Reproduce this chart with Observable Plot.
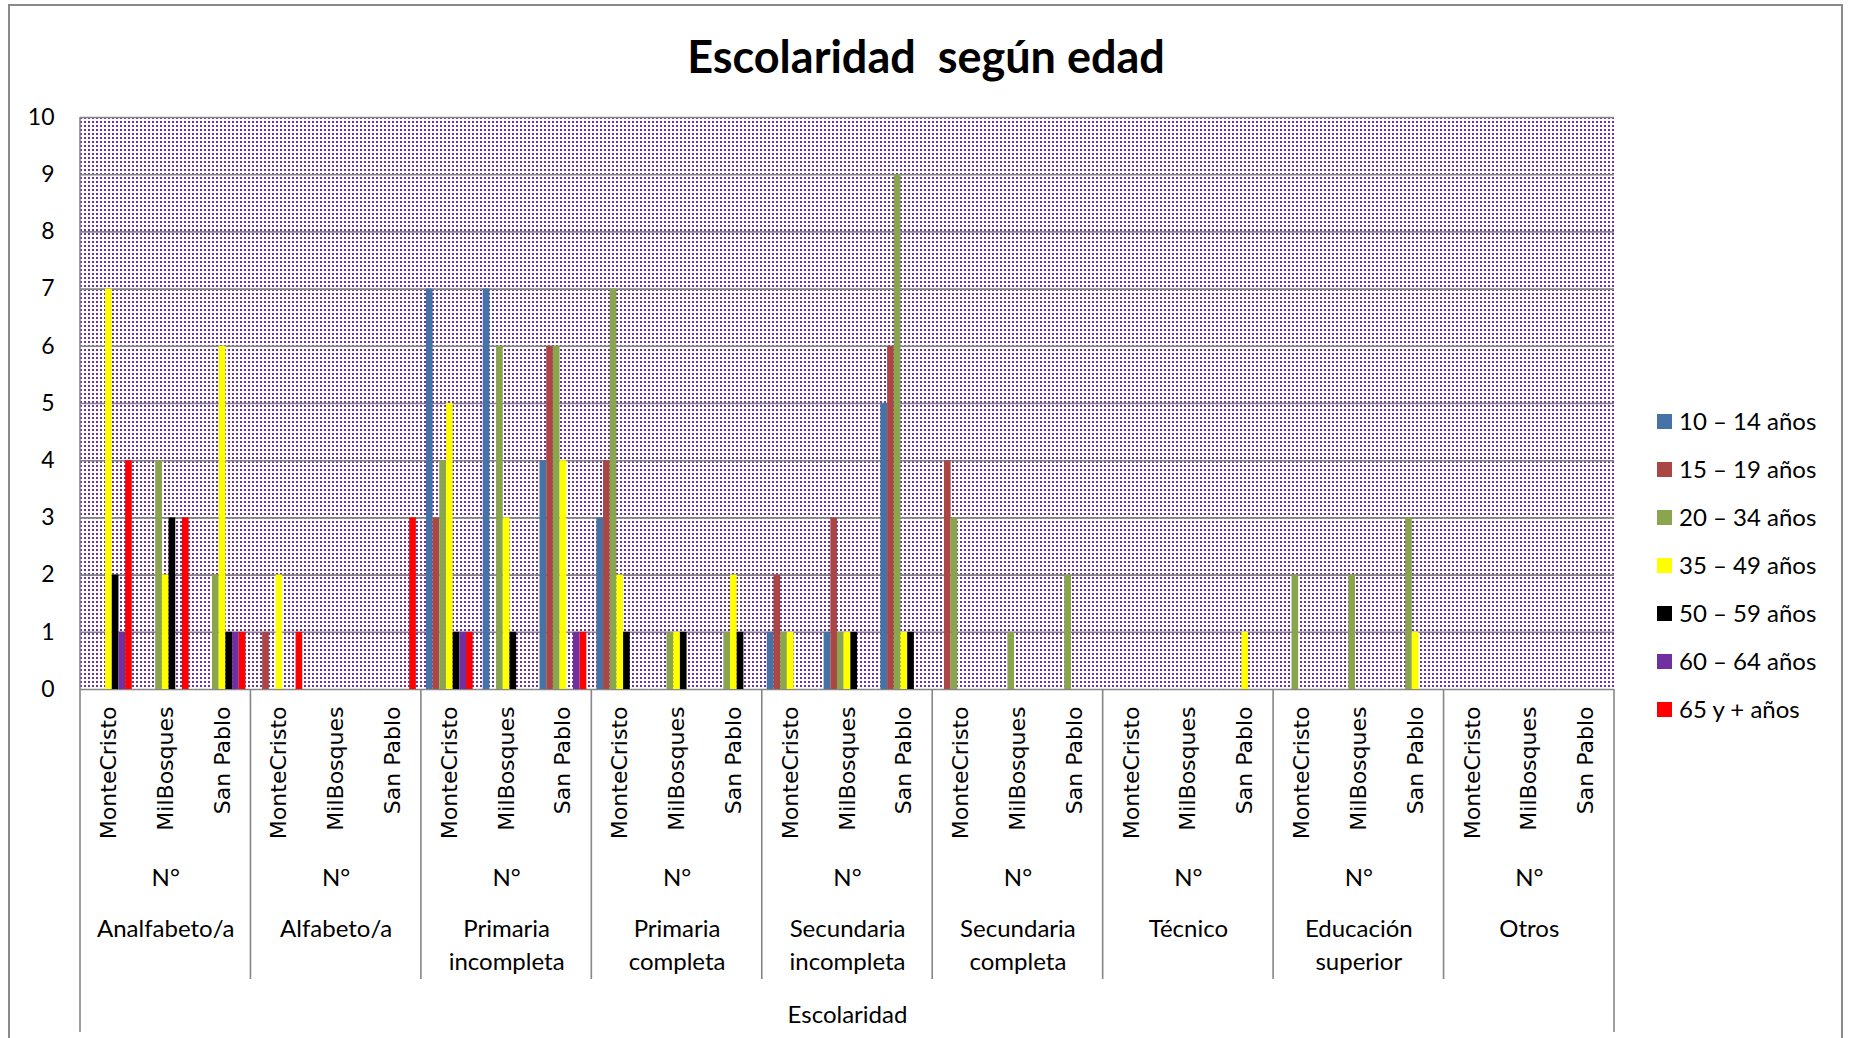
<!DOCTYPE html>
<html>
<head>
<meta charset="utf-8">
<script src="https://cdn.jsdelivr.net/npm/d3@7"></script>
<script src="https://cdn.jsdelivr.net/npm/@observablehq/plot@0.6"></script>
<style>
  html, body { margin: 0; padding: 0; background: #fff; overflow: hidden; }
  #wrap { position: relative; width: 1849px; height: 1038px; font-family: Lato, "Open Sans", sans-serif; color: #000; }
  #wrap svg { position: absolute; left: 0; top: 0; }
  #border { position: absolute; left: 8px; top: 4px; width: 1835px; height: 1100px; border: 2px solid #8a8a8a; box-sizing: border-box; pointer-events: none; }
  #title { position: absolute; left: 0; width: 1852px; top: 34px; text-align: center; font: 700 45px/1 Lato, sans-serif; white-space: pre; }
  .lg-sw { position: absolute; width: 15px; height: 15px; }
  .lg-tx { position: absolute; font: 400 24px/1 Lato, sans-serif; white-space: pre; }
</style>
</head>
<body>
<div id="wrap">
  <div id="border"></div>
  <div id="title">Escolaridad  según edad</div>
</div>
<script>
// ---- Data ----
const categories = ["Analfabeto/a", "Alfabeto/a", "Primaria incompleta", "Primaria completa", "Secundaria incompleta", "Secundaria completa", "Técnico", "Educación superior", "Otros"];
const categoryLabels = ["Analfabeto/a", "Alfabeto/a", "Primaria\nincompleta", "Primaria\ncompleta", "Secundaria\nincompleta", "Secundaria\ncompleta", "Técnico", "Educación\nsuperior", "Otros"];
const locations = ["MonteCristo", "MilBosques", "San Pablo"];
const ageGroups = ["10 – 14 años", "15 – 19 años", "20 – 34 años", "35 – 49 años", "50 – 59 años", "60 – 64 años", "65 y + años"];
const ageColors = ["#4572A7", "#AA4643", "#89A54E", "#FFFF00", "#000000", "#7030A0", "#FF0000"];
const yTicks = [0, 1, 2, 3, 4, 5, 6, 7, 8, 9, 10];
const axisTitle = "Escolaridad";
const levelLabel = "N°";

// values per age group: 9 categories x 3 locations (MonteCristo, MilBosques, San Pablo)
const a10_14  = [0,0,0, 0,0,0, 7,7,4, 3,0,0, 1,1,5, 0,0,0, 0,0,0, 0,0,0, 0,0,0];
const a15_19  = [0,0,0, 1,0,0, 3,0,6, 4,0,0, 2,3,6, 4,0,0, 0,0,0, 0,0,0, 0,0,0];
const a20_34  = [0,4,2, 0,0,0, 4,6,6, 7,1,1, 1,1,9, 3,1,2, 0,0,0, 2,2,3, 0,0,0];
const a35_49  = [7,2,6, 2,0,0, 5,3,4, 2,1,2, 1,1,1, 0,0,0, 0,0,1, 0,0,1, 0,0,0];
const a50_59  = [2,3,1, 0,0,0, 1,1,0, 1,1,1, 0,1,1, 0,0,0, 0,0,0, 0,0,0, 0,0,0];
const a60_64  = [1,0,1, 0,0,0, 1,0,1, 0,0,0, 0,0,0, 0,0,0, 0,0,0, 0,0,0, 0,0,0];
const a65_mas = [4,3,1, 1,0,3, 1,0,1, 0,0,0, 0,0,0, 0,0,0, 0,0,0, 0,0,0, 0,0,0];
const seriesValues = [a10_14, a15_19, a20_34, a35_49, a50_59, a60_64, a65_mas];

// ---- Build table ----
const clusterKeys = [];
categories.forEach(c => locations.forEach(l => clusterKeys.push(c + "|" + l)));
const rows = [];
clusterKeys.forEach((k, ci) => ageGroups.forEach((a, si) => rows.push({cluster: k, age: a, value: seriesValues[si][ci]})));

const GRID = "#868686";
const chart = Plot.plot({
  width: 1849,
  height: 1038,
  marginLeft: 80,
  marginRight: 235,
  marginTop: 117,
  marginBottom: 349,
  style: {background: "transparent", fontFamily: "Lato, sans-serif"},
  fx: {domain: clusterKeys, padding: 0, round: false},
  x: {domain: ageGroups, paddingInner: 0, paddingOuter: 0.75, round: false, axis: null},
  y: {domain: [0, 10]},
  color: {domain: ageGroups, range: ageColors},
  marks: [
    Plot.ruleY(yTicks, {stroke: GRID, strokeWidth: 1.6}),
    Plot.barY(rows, {fx: "cluster", x: "age", y: "value", fill: "age"}),
    Plot.axisY(yTicks, {tickSize: 0, tickPadding: 26, tickFormat: d => String(d), fontSize: 23, fontFamily: "Lato, sans-serif", label: null}),
    Plot.axisFx({anchor: "bottom", tickSize: 0, tickPadding: 17, tickRotate: -90, tickFormat: k => k.split("|")[1], fontSize: 22, fontFamily: "DejaVu Sans, sans-serif", label: null}),
    Plot.text(categories, {fx: c => c + "|MilBosques", frameAnchor: "bottom", text: () => levelLabel, dy: 189, fontSize: 24, fontFamily: "Lato, sans-serif", lineAnchor: "middle"}),
    Plot.text(categories, {fx: c => c + "|MilBosques", frameAnchor: "bottom", text: (c, i) => categoryLabels[i], dy: 224, lineAnchor: "top", lineHeight: 1.375, fontSize: 24, fontFamily: "Lato, sans-serif"}),
    Plot.text([axisTitle], {fx: () => "Secundaria incompleta|MilBosques", frameAnchor: "bottom", text: d => d, dy: 326, lineAnchor: "middle", fontSize: 24, fontFamily: "Lato, sans-serif"})
  ]
});

// ---- Background pattern + separators from the scales ----
const fxS = chart.scale("fx");
const yS = chart.scale("y");
const [fx0, fx1] = fxS.range;
const yBottom = yS.range[0], yTop = yS.range[1];
const step = (fx1 - fx0) / clusterKeys.length;
const svg = d3.select(chart);
const ns = "http://www.w3.org/2000/svg";
const defs = document.createElementNS(ns, "defs");
chart.insertBefore(defs, chart.firstChild);
const pat = d3.select(defs).append("pattern").attr("id", "dots").attr("patternUnits", "userSpaceOnUse")
  .attr("x", fx0).attr("y", yTop).attr("width", 4).attr("height", 4);
pat.append("rect").attr("width", 4).attr("height", 4).attr("fill", "#ffffff");
pat.append("rect").attr("x", 0).attr("y", 0).attr("width", 2).attr("height", 2).attr("fill", "#7030A0");
const bg = document.createElementNS(ns, "rect");
chart.insertBefore(bg, defs.nextSibling);
d3.select(bg).attr("x", fx0).attr("y", yTop).attr("width", fx1 - fx0).attr("height", yBottom - yTop).attr("fill", "url(#dots)");

const lines = svg.append("g").attr("stroke", GRID).attr("stroke-width", 1.6);
lines.append("line").attr("x1", fx0).attr("x2", fx0).attr("y1", yTop).attr("y2", 1032);
lines.append("line").attr("x1", fx1).attr("x2", fx1).attr("y1", yBottom).attr("y2", 1032);
for (let i = 1; i < categories.length; i++) {
  const xs = fx0 + i * locations.length * step;
  lines.append("line").attr("x1", xs).attr("x2", xs).attr("y1", yBottom).attr("y2", 979);
}

document.getElementById("wrap").appendChild(chart);

// ---- Legend ----
const wrap = document.getElementById("wrap");
ageGroups.forEach((a, i) => {
  const cy = 421.7 + i * 47.9;
  const sw = document.createElement("div");
  sw.className = "lg-sw";
  sw.style.left = "1657px"; sw.style.top = (cy - 7.5) + "px"; sw.style.background = ageColors[i];
  wrap.appendChild(sw);
  const tx = document.createElement("div");
  tx.className = "lg-tx";
  tx.style.left = "1679px"; tx.style.top = (cy - 12.6) + "px";
  tx.textContent = a;
  wrap.appendChild(tx);
});
</script>
</body>
</html>
